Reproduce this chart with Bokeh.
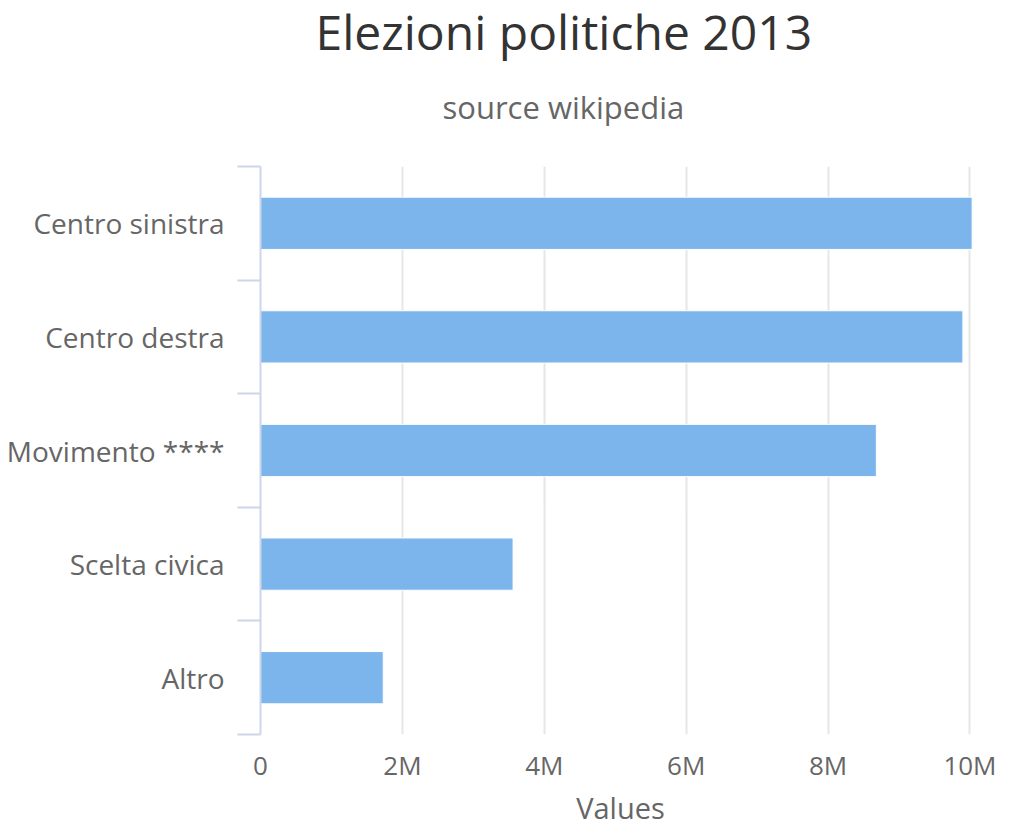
from bokeh.plotting import figure
from bokeh.models import Range1d, FixedTicker, Title, ColumnDataSource
from bokeh.embed import file_html
from bokeh.resources import INLINE

# ---- data ----
categories = ["Centro sinistra", "Centro destra", "Movimento ****", "Scelta civica", "Altro"]
votes = [10030000, 9900000, 8680000, 3560000, 1730000]
x_ticks = [0, 2000000, 4000000, 6000000, 8000000, 10000000]
x_tick_labels = ["0", "2M", "4M", "6M", "8M", "10M"]
title_text = "Elezioni politiche 2013"
subtitle_text = "source wikipedia"
x_title = "Values"

n = len(categories)
ypos = [n - i - 0.5 for i in range(n)]
bounds = [float(i) for i in range(n + 1)]
source = ColumnDataSource(dict(cat=categories, votes=votes, y=ypos))

FONT = "Open Sans"
LABEL = "#666666"

p = figure(width=996, height=829, output_backend="svg", toolbar_location=None,
           title=None,
           x_range=Range1d(0, 10148000), y_range=Range1d(0, n),
           min_border_left=260, min_border_right=16, min_border_top=166, min_border_bottom=92)
p.outline_line_color = None
p.background_fill_color = "white"
p.border_fill_color = "white"

p.hbar(y="y", right="votes", left=0, height=0.46, source=source,
       fill_color="#7cb5ec", line_color="white", line_width=1)

# header: panels stack outward from the plot (spacer, subtitle, title)
spacer = Title(text=" ", text_font=FONT, text_font_size="1px", standoff=11)
p.add_layout(spacer, "above")
sub = Title(text=subtitle_text, align="left", offset=182, vertical_align="top",
            text_font=FONT, text_font_size="31px", text_font_style="normal",
            text_color=LABEL, standoff=46)
p.add_layout(sub, "above")
main = Title(text=title_text, align="left", offset=55, vertical_align="top",
             text_font=FONT, text_font_size="48px", text_font_style="normal",
             text_color="#333333", standoff=-6)
p.add_layout(main, "above")

# y axis (categories)
ya = p.yaxis[0]
ya.ticker = FixedTicker(ticks=ypos, minor_ticks=bounds)
ya.major_label_overrides = {y: c for y, c in zip(ypos, categories)}
ya.axis_line_color = "#ccd6eb"
ya.axis_line_width = 2
ya.major_tick_line_color = None
ya.major_tick_out = 0
ya.major_tick_in = 0
ya.minor_tick_line_color = "#ccd6eb"
ya.minor_tick_line_width = 2
ya.minor_tick_out = 23
ya.minor_tick_in = 0
ya.major_label_standoff = 13
ya.major_label_text_font = FONT
ya.major_label_text_font_size = "28px"
ya.major_label_text_color = LABEL

# x axis (values)
xa = p.xaxis[0]
xa.ticker = FixedTicker(ticks=x_ticks, minor_ticks=[])
xa.major_label_overrides = {t: l for t, l in zip(x_ticks, x_tick_labels)}
xa.axis_line_color = None
xa.major_tick_line_color = None
xa.minor_tick_line_color = None
xa.major_tick_out = 0
xa.major_tick_in = 0
xa.major_label_standoff = 12
xa.major_label_text_font = FONT
xa.major_label_text_font_size = "26px"
xa.major_label_text_color = LABEL
xa.axis_label = x_title
xa.axis_label_text_font = FONT
xa.axis_label_text_font_size = "29px"
xa.axis_label_text_font_style = "normal"
xa.axis_label_text_color = LABEL
xa.axis_label_standoff = 2

p.xgrid.grid_line_color = "#e6e6e6"
p.xgrid.grid_line_width = 2
p.ygrid.grid_line_color = None

open("out.html", "w").write(file_html(p, INLINE))
